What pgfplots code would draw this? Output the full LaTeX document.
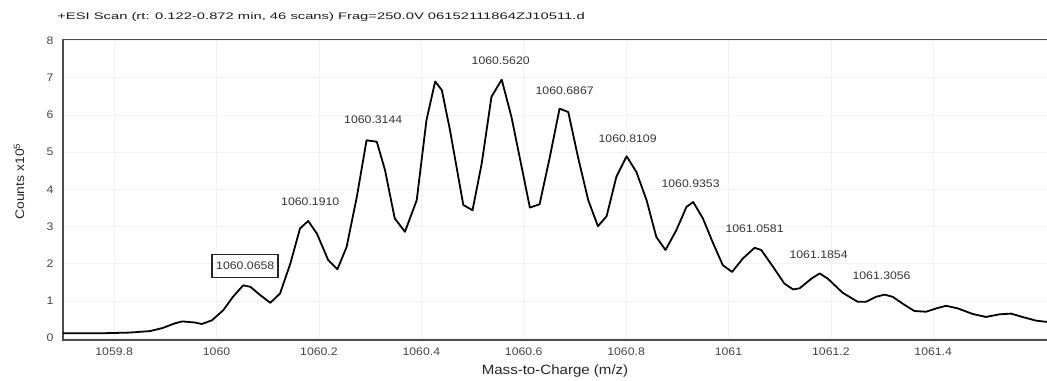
\documentclass[border=0pt]{standalone}
\usepackage{pgfplots}
\pgfplotsset{compat=1.18}
\usepackage{pgfplotstable}
\usepackage{fontspec}
\setmainfont{Liberation Sans}[FakeStretch=1.12]
\newfontfamily\titlefont{Liberation Sans}
\definecolor{ticktext}{HTML}{444444}
\definecolor{peaktext}{HTML}{333333}

\pgfplotstableread{
mz counts
1059.700 0.13
1059.773 0.13
1059.831 0.15
1059.870 0.19
1059.894 0.27
1059.919 0.40
1059.933 0.45
1059.958 0.42
1059.971 0.38
1059.991 0.48
1060.013 0.75
1060.032 1.11
1060.052 1.42
1060.066 1.38
1060.085 1.16
1060.105 0.95
1060.124 1.20
1060.144 2.00
1060.163 2.95
1060.179 3.15
1060.196 2.81
1060.218 2.10
1060.236 1.85
1060.254 2.45
1060.274 3.80
1060.293 5.32
1060.313 5.28
1060.329 4.52
1060.348 3.22
1060.368 2.86
1060.391 3.71
1060.410 5.86
1060.427 6.90
1060.440 6.67
1060.456 5.59
1060.482 3.58
1060.500 3.44
1060.518 4.70
1060.537 6.49
1060.557 6.95
1060.576 5.95
1060.596 4.60
1060.612 3.51
1060.631 3.60
1060.651 4.87
1060.670 6.17
1060.687 6.08
1060.706 4.87
1060.726 3.71
1060.745 3.01
1060.762 3.28
1060.781 4.34
1060.801 4.89
1060.820 4.47
1060.840 3.71
1060.859 2.72
1060.877 2.37
1060.898 2.90
1060.918 3.53
1060.931 3.66
1060.950 3.22
1060.970 2.55
1060.989 1.96
1061.007 1.78
1061.028 2.14
1061.051 2.43
1061.064 2.37
1061.087 1.92
1061.109 1.47
1061.126 1.31
1061.139 1.34
1061.162 1.60
1061.178 1.74
1061.194 1.60
1061.223 1.22
1061.252 0.98
1061.269 0.98
1061.288 1.11
1061.305 1.17
1061.321 1.11
1061.340 0.93
1061.363 0.73
1061.386 0.71
1061.406 0.80
1061.425 0.87
1061.448 0.80
1061.477 0.65
1061.503 0.57
1061.529 0.64
1061.552 0.66
1061.574 0.57
1061.601 0.47
1061.620 0.44
1061.635 0.42
}\spectrum

\begin{document}
\begin{tikzpicture}[x=1bp,y=1bp]
\begin{axis}[
  at={(63bp,40bp)}, anchor=south west,
  scale only axis, width=989bp, height=300.5bp,
  xmin=1059.70, xmax=1061.632, ymin=-0.05, ymax=8.03,
  xtick={1059.8,1060,1060.2,1060.4,1060.6,1060.8,1061,1061.2,1061.4},
  xticklabels={1059.8,1060,1060.2,1060.4,1060.6,1060.8,1061,1061.2,1061.4},
  ytick={0,1,2,3,4,5,6,7,8},
  yticklabels={0,1,2,3,4,5,6,7,8},
  major tick length=0pt,
  grid=major, grid style={black!5, line width=0.6bp},
  axis line style={black!70, line width=1.6bp},
  tick label style={font=\fontsize{11}{13}\selectfont, text=ticktext},
  xticklabel style={yshift=-4bp},
  yticklabel style={xshift=-6bp},
  xlabel={Mass-to-Charge (m/z)},
  xlabel style={font=\fontsize{13.5}{16}\selectfont, text=black!85,
    at={(axis description cs:0.4975,-0.103)}, anchor=center},
  ylabel={Counts x10\textsuperscript{5}},
  ylabel style={font=\fontsize{12.5}{15}\selectfont, text=black!85,
    at={(axis description cs:-0.0445,0.5275)}, anchor=center},
]
\addplot[black, line width=1.8bp, line join=round, sharp plot] table[x=mz, y=counts] {\spectrum};
\begin{scope}[every node/.style={font=\fontsize{11}{13}\selectfont, text=peaktext}]
\node[draw=black!85, line width=1.6bp, inner xsep=4bp, minimum height=23bp] at (axis cs:1060.056,1.94) {1060.0658};
\node at (axis cs:1060.183,3.66) {1060.1910};
\node at (axis cs:1060.306,5.86) {1060.3144};
\node at (axis cs:1060.555,7.45) {1060.5620};
\node at (axis cs:1060.680,6.64) {1060.6867};
\node at (axis cs:1060.803,5.35) {1060.8109};
\node at (axis cs:1060.926,4.16) {1060.9353};
\node at (axis cs:1061.051,2.93) {1061.0581};
\node at (axis cs:1061.176,2.23) {1061.1854};
\node at (axis cs:1061.299,1.67) {1061.3056};
\end{scope}
\end{axis}
\node[anchor=base west, inner sep=0pt, text=black!90, xscale=1.56, transform shape,
  font=\titlefont\fontsize{9.5}{11}\selectfont] at (57,361) {+ESI Scan (rt: 0.122-0.872 min, 46 scans) Frag=250.0V 06152111864ZJ10511.d};
\pgfresetboundingbox
\useasboundingbox (0,0) rectangle (1047,380);
\end{tikzpicture}
\end{document}
